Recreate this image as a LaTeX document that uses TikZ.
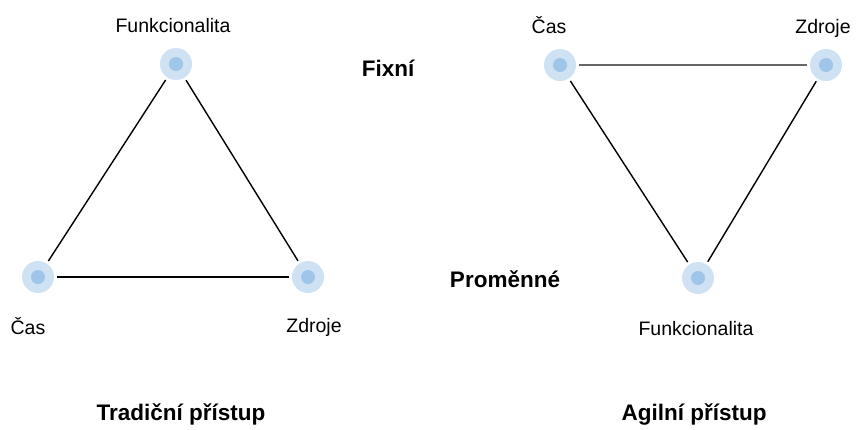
\documentclass[tikz,border=0pt]{standalone}
\usepackage{fontspec}
\setmainfont{Liberation Sans}
\definecolor{ringblue}{HTML}{CFE2F3}
\definecolor{dotblue}{HTML}{9FC5E8}
\definecolor{edgegray}{HTML}{666666}
\begin{document}
\begin{tikzpicture}[x=1pt,y=-1pt,
  vertex/.style={circle,fill=ringblue,minimum size=32pt,inner sep=0pt,outer sep=3pt,
    path picture={\fill[dotblue] (path picture bounding box.center) circle (7pt);}},
  lbl/.style={font=\fontsize{19.5}{22}\selectfont,inner sep=0pt,anchor=base},
  blbl/.style={font=\fontsize{22.5}{26}\selectfont\bfseries,inner sep=0pt,anchor=base},
  edge/.style={line width=1.4pt,black},
  gedge/.style={line width=2.4pt,edgegray}]
\useasboundingbox (0,0) rectangle (858,429);
% left triangle
\node[vertex] (lf) at (176,64) {};
\node[vertex] (lc) at (38,277) {};
\node[vertex] (lz) at (308,277) {};
\draw[edge] (lf) -- (lc);
\draw[edge] (lf) -- (lz);
\draw[edge] (lc) -- (lz);
\node[lbl] (lfl) at (173,32) {Funkcionalita};
\node[lbl] (lcl) at (28,334) {Čas};
\node[lbl] (lzl) at (314,332) {Zdroje};
% right triangle
\node[vertex] (rc) at (560,65) {};
\node[vertex] (rz) at (826,65) {};
\node[vertex] (rf) at (698,278) {};
\draw[gedge] (rc) -- (rz);
\draw[edge] (rc) -- (rf);
\draw[edge] (rz) -- (rf);
\node[lbl] (rcl) at (549,33) {Čas};
\node[lbl] (rzl) at (823,33) {Zdroje};
\node[lbl] (rfl) at (696,335) {Funkcionalita};
% category labels
\node[blbl] (fix) at (388,76) {Fixní};
\node[blbl] (var) at (505,287) {Proměnné};
\node[blbl] (trad) at (181,420) {Tradiční přístup};
\node[blbl] (agil) at (694,420) {Agilní přístup};
\end{tikzpicture}
\end{document}
